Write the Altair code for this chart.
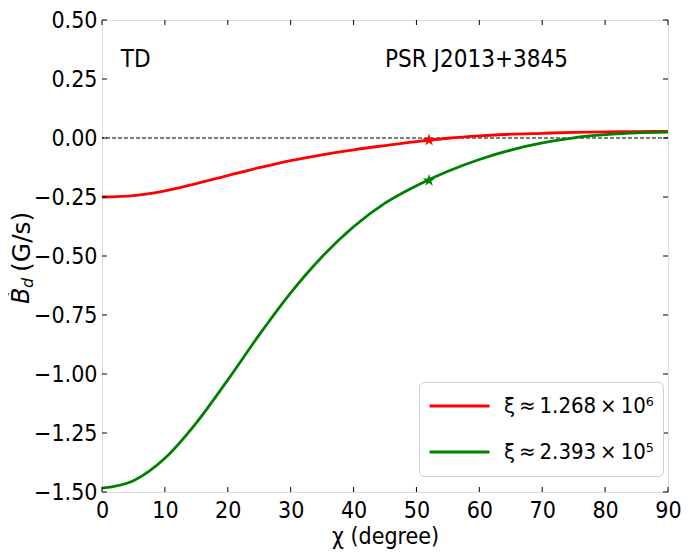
import altair as alt
import pandas as pd

# ---- data ----
chi = [0, 5, 10, 15, 20, 25, 30, 35, 40, 45, 50, 55, 60, 65, 70, 75, 80, 85, 90]
red_vals = [-0.250, -0.244, -0.224, -0.193, -0.159, -0.126, -0.096, -0.071, -0.050, -0.032,
            -0.015, -0.001, 0.009, 0.016, 0.020, 0.024, 0.026, 0.027, 0.028]
green_vals = [-1.484, -1.452, -1.357, -1.207, -1.025, -0.834, -0.656, -0.503, -0.376, -0.276,
              -0.202, -0.141, -0.091, -0.051, -0.021, 0.001, 0.014, 0.022, 0.025]
series = ["ξ\u2009≈\u20091.268\u2009×\u200910⁶", "ξ\u2009≈\u20092.393\u2009×\u200910⁵"]
colors = ["#ff0000", "#008000"]
star_chi = [52, 52]
star_vals = [-0.009, -0.180]
x_ticks = [0, 10, 20, 30, 40, 50, 60, 70, 80, 90]
y_ticks = [-1.5, -1.25, -1.0, -0.75, -0.5, -0.25, 0.0, 0.25, 0.5]
annot_text = ["TD", "PSR J2013+3845"]
annot_x = [3, 45]
annot_y = [0.30, 0.30]

F = "Liberation Sans Narrow, DejaVu Sans Condensed, sans-serif"
W, H = 566, 472

lines_df = pd.DataFrame({
    "chi": chi * 2,
    "B": red_vals + green_vals,
    "series": [series[0]] * len(chi) + [series[1]] * len(chi),
})
stars_df = pd.DataFrame({"chi": star_chi, "B": star_vals, "series": series})
annot_df = pd.DataFrame({"chi": annot_x, "B": annot_y, "label": annot_text})
xt_df = pd.DataFrame({"chi": x_ticks})
yt_df = pd.DataFrame({"B": y_ticks})
zero_df = pd.DataFrame({"B": [0.0]})

xscale = alt.Scale(domain=[0, 90], nice=False, zero=False)
yscale = alt.Scale(domain=[-1.5, 0.5], nice=False, zero=False)
cscale = alt.Scale(domain=series, range=colors)

xaxis = alt.Axis(
    values=x_ticks, ticks=False, domain=False, grid=False, labelFont=F, labelFontSize=23,
    labelColor="black", labelPadding=7, labelFlush=False, labelOverlap=False,
    title="χ (degree)", titleFont=F, titleFontSize=23, titleFontWeight="normal",
    titleColor="black", titlePadding=3)
yaxis = alt.Axis(
    values=y_ticks, format=".2f", ticks=False, domain=False, grid=False, labelFont=F,
    labelFontSize=23, labelColor="black", labelPadding=5, labelFlush=False,
    labelOverlap=False, title=None)

X = alt.X("chi:Q", scale=xscale, axis=xaxis, title="χ (degree)")
Y = alt.Y("B:Q", scale=yscale, axis=yaxis, title=None)

lines = alt.Chart(lines_df).mark_line(strokeWidth=2.8, interpolate="monotone").encode(
    x=X, y=Y,
    color=alt.Color("series:N", scale=cscale, sort=series, legend=alt.Legend(
        title=None, orient="none", legendX=317, legendY=362, symbolType="stroke",
        symbolSize=3600, symbolStrokeWidth=3, clipHeight=30, rowPadding=16,
        labelFont=F, labelFontSize=22, labelColor="black", labelOffset=13, labelLimit=0,
        padding=9, strokeColor="#d0d0d0", cornerRadius=5, fillColor="white")),
)

zero_rule = alt.Chart(zero_df).mark_rule(
    color="black", strokeWidth=1, strokeDash=[4, 2]).encode(y=Y)

star_path = ("M0,-1L0.2245,-0.309L0.951,-0.309L0.363,0.118L0.588,0.809L0,0.382"
             "L-0.588,0.809L-0.363,0.118L-0.951,-0.309L-0.2245,-0.309Z")
stars = alt.Chart(stars_df).mark_point(shape=star_path, filled=True, size=170, opacity=1).encode(
    x=X, y=Y,
    color=alt.Color("series:N", scale=cscale, legend=None),
)

annots = alt.Chart(annot_df).mark_text(
    font=F, fontSize=24, align="left", baseline="alphabetic", color="black").encode(
    x=X, y=Y, text="label:N",
)

tick_len = 5
xt_bottom = alt.Chart(xt_df).mark_rule(color="black", strokeWidth=1).encode(
    x=X, y=alt.value(H), y2=alt.value(H - tick_len))
xt_top = alt.Chart(xt_df).mark_rule(color="black", strokeWidth=1).encode(
    x=X, y=alt.value(0), y2=alt.value(tick_len))
yt_left = alt.Chart(yt_df).mark_rule(color="black", strokeWidth=1).encode(
    y=Y, x=alt.value(0), x2=alt.value(tick_len))
yt_right = alt.Chart(yt_df).mark_rule(color="black", strokeWidth=1).encode(
    y=Y, x=alt.value(W), x2=alt.value(W - tick_len))

# y-axis title, drawn as rotated text pieces
yt_base = alt.Chart(pd.DataFrame({"a": [0]}))
TX, TY = -80, 284
ytitle_B = yt_base.mark_text(text="B\u0307", font="DejaVu Sans", fontStyle="italic", fontSize=24,
                             angle=270, align="left", baseline="middle", color="black").encode(
    x=alt.value(TX), y=alt.value(TY))
ytitle_d = yt_base.mark_text(text="d", font="DejaVu Sans", fontStyle="italic", fontSize=16,
                             angle=270, align="left", baseline="middle", color="black",
                             dx=16, dy=6).encode(
    x=alt.value(TX), y=alt.value(TY))
ytitle_u = yt_base.mark_text(text="(G/s)", font="DejaVu Sans", fontSize=25,
                             angle=270, align="left", baseline="middle", color="black",
                             dx=32).encode(
    x=alt.value(TX), y=alt.value(TY))

chart = alt.layer(
    zero_rule, lines, stars, annots, xt_bottom, xt_top, yt_left, yt_right,
    ytitle_B, ytitle_d, ytitle_u,
).properties(
    width=W, height=H,
    padding={"left": 94, "top": 12, "right": 15, "bottom": 57},
    autosize=alt.AutoSizeParams(type="none"),
).configure_view(
    stroke="black", strokeWidth=1.5,
).configure(background="white")

chart.save("out.html", embed_options={"renderer": "svg", "actions": False})
